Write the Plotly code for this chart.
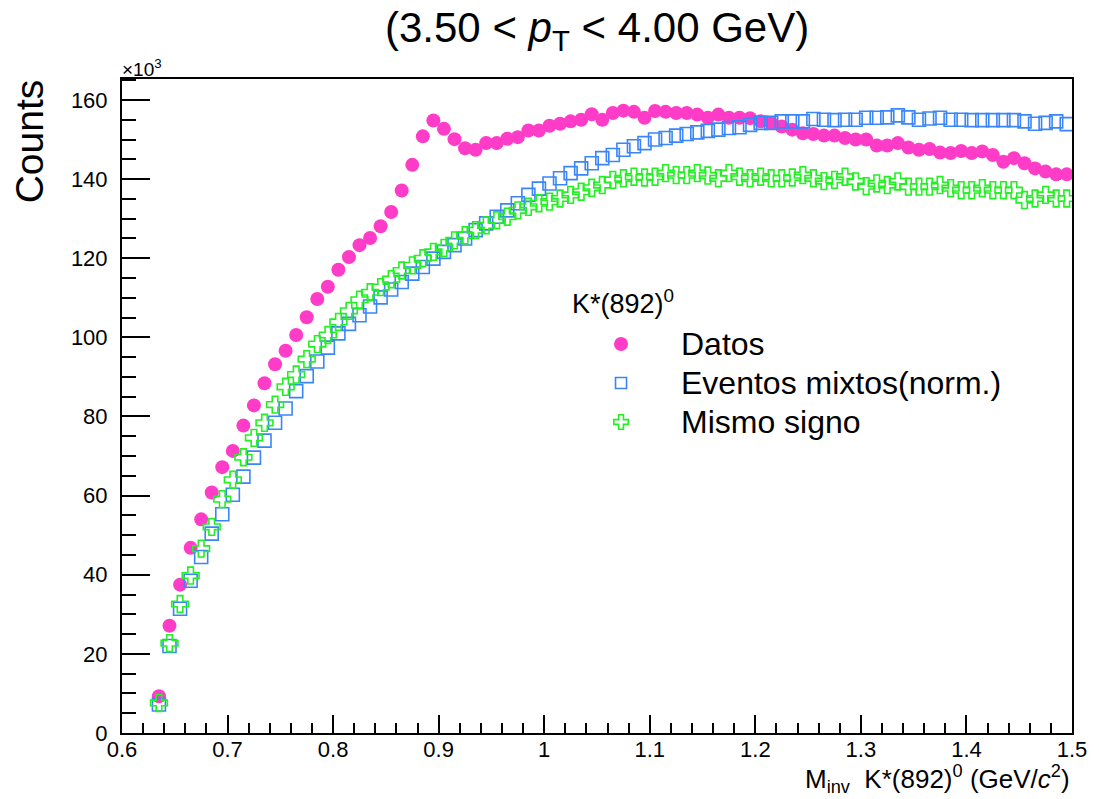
import plotly.graph_objects as go

# ---------------- data (counts in units of 10^3) ----------------
mass = [0.635, 0.645, 0.655, 0.665, 0.675, 0.685, 0.695, 0.705, 0.715, 0.725,
        0.735, 0.745, 0.755, 0.765, 0.775, 0.785, 0.795, 0.805, 0.815, 0.825,
        0.835, 0.845, 0.855, 0.865, 0.875, 0.885, 0.895, 0.905, 0.915, 0.925,
        0.935, 0.945, 0.955, 0.965, 0.975, 0.985, 0.995, 1.005, 1.015, 1.025,
        1.035, 1.045, 1.055, 1.065, 1.075, 1.085, 1.095, 1.105, 1.115, 1.125,
        1.135, 1.145, 1.155, 1.165, 1.175, 1.185, 1.195, 1.205, 1.215, 1.225,
        1.235, 1.245, 1.255, 1.265, 1.275, 1.285, 1.295, 1.305, 1.315, 1.325,
        1.335, 1.345, 1.355, 1.365, 1.375, 1.385, 1.395, 1.405, 1.415, 1.425,
        1.435, 1.445, 1.455, 1.465, 1.475, 1.485, 1.495]

datos = [9.3, 27.1, 37.5, 46.8, 54.0, 60.8, 67.2, 71.3, 77.7, 82.8,
         88.4, 93.2, 96.6, 100.6, 105.1, 109.7, 112.8, 117.1, 120.3, 123.3,
         125.1, 128.1, 131.7, 137.1, 143.6, 150.8, 154.8, 152.7, 150.1, 147.8,
         147.4, 149.1, 149.1, 150.2, 150.6, 152.3, 152.3, 153.5, 154.0, 154.6,
         155.0, 156.4, 155.0, 156.7, 157.3, 157.0, 155.5, 157.2, 157.0, 156.7,
         156.7, 156.3, 155.5, 156.3, 155.5, 155.5, 155.4, 154.6, 154.2, 153.3,
         152.5, 151.6, 151.4, 151.0, 151.0, 150.4, 150.0, 150.0, 148.5, 148.5,
         149.1, 148.0, 147.4, 147.6, 146.7, 146.6, 147.1, 146.6, 147.0, 146.1,
         144.4, 145.3, 144.0, 142.7, 141.9, 141.2, 141.2]

mixtos = [7.2, 22.0, 31.4, 38.5, 44.5, 50.4, 55.3, 60.2, 64.8, 69.6,
          73.9, 78.4, 82.0, 86.4, 90.2, 93.9, 97.4, 101.0, 103.4, 105.6,
          107.8, 110.1, 112.1, 114.0, 116.1, 117.8, 119.9, 121.6, 123.3, 125.0,
          127.1, 128.8, 130.5, 132.1, 133.9, 136.0, 137.6, 138.9, 140.2, 141.5,
          142.7, 144.0, 145.3, 146.1, 147.4, 148.3, 149.1, 150.0, 150.4, 151.0,
          151.4, 151.8, 152.2, 152.5, 152.9, 153.1, 153.7, 154.2, 154.2, 154.6,
          154.6, 154.6, 155.2, 155.0, 154.9, 155.0, 155.0, 155.5, 155.5, 155.6,
          156.1, 155.6, 155.0, 155.3, 155.5, 155.0, 155.0, 154.9, 154.9, 154.9,
          154.9, 154.9, 154.6, 154.0, 154.2, 154.6, 153.9]

mismo = [7.6, 22.7, 32.6, 39.8, 46.6, 52.1, 59.1, 64.0, 69.7, 74.6,
         78.4, 83.0, 87.5, 90.6, 94.5, 98.3, 100.6, 103.9, 106.7, 109.5,
         111.4, 112.7, 114.7, 116.9, 118.2, 120.0, 121.6, 122.6, 124.5, 125.8,
         127.1, 128.3, 129.6, 130.5, 132.1, 133.0, 133.9, 134.3, 135.1, 136.0,
         136.8, 137.8, 138.5, 139.8, 140.2, 140.6, 140.4, 140.6, 141.5, 141.0,
         141.0, 141.5, 140.9, 140.2, 141.5, 140.6, 140.2, 140.6, 140.2, 140.2,
         140.4, 141.0, 140.2, 139.5, 139.8, 140.6, 139.4, 138.2, 138.9, 138.5,
         139.4, 138.1, 138.1, 138.1, 138.5, 137.7, 137.2, 137.2, 137.7, 137.2,
         137.2, 137.2, 134.7, 135.1, 136.0, 135.1, 135.1]

series_names = ["Datos", "Eventos mixtos(norm.)", "Mismo signo"]
legend_header = "K*(892)<sup>0</sup>"

x_tickvals = [0.6, 0.7, 0.8, 0.9, 1.0, 1.1, 1.2, 1.3, 1.4, 1.5]
x_ticktext = ["0.6", "0.7", "0.8", "0.9", "1", "1.1", "1.2", "1.3", "1.4", "1.5"]
y_tickvals = [0, 20, 40, 60, 80, 100, 120, 140, 160]
y_ticktext = ["0", "20", "40", "60", "80", "100", "120", "140", "160"]

# ---------------- styles ----------------
PINK = "#ff3cc8"
BLUE = "#3a86f8"
GREEN = "#22f022"
FONT = "Liberation Sans, Arial, Helvetica, sans-serif"

W, H = 1099, 799
L, R, T, B = 121.5, 19, 79, 66

fig = go.Figure()

fig.add_trace(go.Scatter(x=mass, y=datos, mode="markers", name=series_names[0],
                         marker=dict(symbol="circle", size=14, color=PINK,
                                     line=dict(width=0)), showlegend=False))
fig.add_trace(go.Scatter(x=mass, y=mixtos, mode="markers", name=series_names[1],
                         marker=dict(symbol="square-open", size=13, color=BLUE,
                                     line=dict(width=1.6, color=BLUE)), showlegend=False))
fig.add_trace(go.Scatter(x=mass, y=mismo, mode="markers", name=series_names[2],
                         marker=dict(symbol="cross-open", size=14, color=GREEN,
                                     line=dict(width=1.6, color=GREEN)), showlegend=False))

# ---------------- manual legend (overlay axes in plot-fraction units) ----------------
pw, ph = W - L - R, H - T - B
def fx(px):
    return (px - L) / pw
def fy(py):
    return (H - B - py) / ph

leg_marker_x = 625
leg_rows_y = [344, 383, 422]
leg_symbols = ["circle", "square-open", "cross-open"]
leg_colors = [PINK, BLUE, GREEN]
leg_sizes = [14, 11, 12]
for i in range(3):
    fig.add_trace(go.Scatter(x=[fx(leg_marker_x)], y=[fy(leg_rows_y[i])], mode="markers",
                             xaxis="x2", yaxis="y2", showlegend=False, hoverinfo="skip",
                             marker=dict(symbol=leg_symbols[i], size=leg_sizes[i],
                                         color=leg_colors[i],
                                         line=dict(width=1.6 if i else 0, color=leg_colors[i]))))

annotations = []
annotations.append(dict(text=legend_header, x=fx(574), y=fy(302), xref="paper", yref="paper",
                        xanchor="left", yanchor="middle", showarrow=False,
                        font=dict(size=27, color="black", family=FONT)))
for i in range(3):
    annotations.append(dict(text=series_names[i], x=fx(683), y=fy(leg_rows_y[i]),
                            xref="paper", yref="paper", xanchor="left", yanchor="middle",
                            showarrow=False, font=dict(size=32, color="black", family=FONT)))

# title
annotations.append(dict(text="(3.50 &lt; <i>p</i><sub>T</sub> &lt; 4.00 GeV)", x=0.5, y=fy(30),
                        xref="paper", yref="paper", xanchor="center", yanchor="middle",
                        showarrow=False, font=dict(size=42, color="black", family=FONT)))
# y title
annotations.append(dict(text="Counts", x=fx(28), y=fy(141), xref="paper", yref="paper",
                        xanchor="center", yanchor="middle", textangle=-90, showarrow=False,
                        font=dict(size=39, color="black", family=FONT)))
# x title
annotations.append(dict(text="M<sub>inv</sub>  K*(892)<sup>0</sup> (GeV/<i>c</i><sup>2</sup>)",
                        x=1.0, y=fy(779), xref="paper", yref="paper", xanchor="right",
                        yanchor="middle", showarrow=False,
                        font=dict(size=26, color="black", family=FONT)))
# exponent
annotations.append(dict(text="×10<sup>3</sup>", x=fx(119), y=fy(68), xref="paper", yref="paper",
                        xanchor="left", yanchor="middle", showarrow=False,
                        font=dict(size=19, color="black", family=FONT)))

fig.update_layout(
    width=W, height=H,
    margin=dict(l=L, r=R, t=T, b=B, pad=0),
    paper_bgcolor="white", plot_bgcolor="white",
    font=dict(family=FONT, color="black"),
    showlegend=False,
    annotations=annotations,
    xaxis=dict(range=[0.6, 1.5], tickvals=x_tickvals, ticktext=x_ticktext,
               ticks="inside", ticklen=18, tickwidth=1.5, tickcolor="black",
               showline=True, linecolor="black", linewidth=2, mirror=True,
               showgrid=False, zeroline=False, ticklabeloverflow="allow",
               tickfont=dict(size=22, color="black", family=FONT), ticklabelstandoff=-4,
               minor=dict(dtick=0.02, ticks="inside", ticklen=10, tickwidth=1.5,
                          tickcolor="black", showgrid=False)),
    yaxis=dict(range=[0, 165.3], tickvals=y_tickvals, ticktext=y_ticktext,
               ticks="inside", ticklen=28, tickwidth=1.5, tickcolor="black",
               showline=True, linecolor="black", linewidth=2, mirror=True,
               showgrid=False, zeroline=False,
               tickfont=dict(size=22, color="black", family=FONT), ticklabelstandoff=8,
               minor=dict(dtick=5, ticks="inside", ticklen=14, tickwidth=1.5,
                          tickcolor="black", showgrid=False)),
    xaxis2=dict(range=[0, 1], overlaying="x", visible=False, fixedrange=True),
    yaxis2=dict(range=[0, 1], overlaying="y", visible=False, fixedrange=True),
)

fig.write_html("out.html",
               post_script="document.body.style.margin='0';document.body.style.overflow='hidden';")
